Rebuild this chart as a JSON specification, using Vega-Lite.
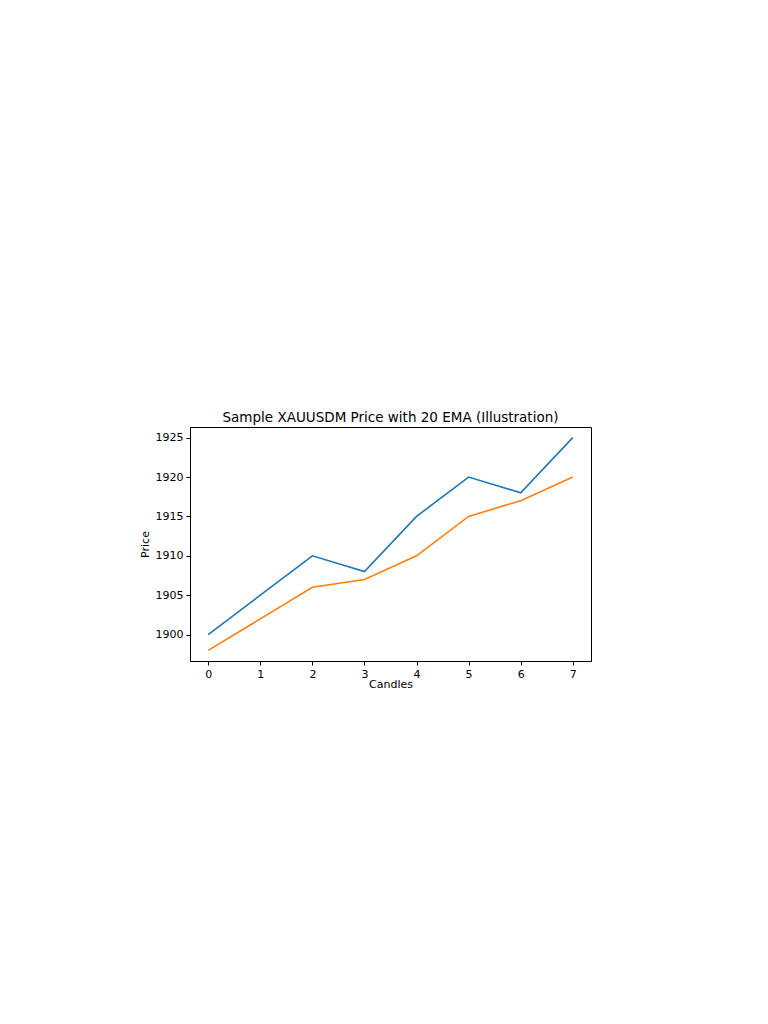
{
  "$schema": "https://vega.github.io/schema/vega-lite/v6.json",
  "width": 401,
  "height": 234,
  "autosize": {"type": "none"},
  "padding": {"left": 190, "top": 427, "right": 177, "bottom": 363},
  "background": "white",
  "config": {
    "font": "DejaVu Sans",
    "view": {"stroke": "#000", "strokeWidth": 1},
    "axis": {"grid": false, "domainColor": "#000", "tickColor": "#000", "labelColor": "#000", "titleColor": "#000", "labelFont": "DejaVu Sans", "titleFont": "DejaVu Sans", "titleFontWeight": "normal", "labelFontSize": 11, "titleFontSize": 11, "tickSize": 4, "labelPadding": 3}
  },
  "title": {"text": "Sample XAUUSDM Price with 20 EMA (Illustration)", "fontSize": 13.5, "fontWeight": "normal", "font": "DejaVu Sans", "color": "#000", "offset": 3, "anchor": "middle"},
  "data": {"values": [
    {"candle": 0, "price": 1900, "series": "Price"},
    {"candle": 1, "price": 1905, "series": "Price"},
    {"candle": 2, "price": 1910, "series": "Price"},
    {"candle": 3, "price": 1908, "series": "Price"},
    {"candle": 4, "price": 1915, "series": "Price"},
    {"candle": 5, "price": 1920, "series": "Price"},
    {"candle": 6, "price": 1918, "series": "Price"},
    {"candle": 7, "price": 1925, "series": "Price"},
    {"candle": 0, "price": 1898, "series": "EMA"},
    {"candle": 1, "price": 1902, "series": "EMA"},
    {"candle": 2, "price": 1906, "series": "EMA"},
    {"candle": 3, "price": 1907, "series": "EMA"},
    {"candle": 4, "price": 1910, "series": "EMA"},
    {"candle": 5, "price": 1915, "series": "EMA"},
    {"candle": 6, "price": 1917, "series": "EMA"},
    {"candle": 7, "price": 1920, "series": "EMA"}
  ]},
  "mark": {"type": "line", "strokeWidth": 1.6, "clip": true},
  "encoding": {
    "x": {"field": "candle", "type": "quantitative", "title": "Candles",
      "scale": {"domain": [-0.35, 7.35], "nice": false, "zero": false},
      "axis": {"values": [0,1,2,3,4,5,6,7], "format": "d", "titlePadding": -1}},
    "y": {"field": "price", "type": "quantitative", "title": "Price",
      "scale": {"domain": [1896.65, 1926.35], "nice": false, "zero": false},
      "axis": {"values": [1900,1905,1910,1915,1920,1925], "format": "d", "titlePadding": 5}},
    "color": {"field": "series", "type": "nominal", "legend": null,
      "scale": {"domain": ["Price", "EMA"], "range": ["#1f77b4", "#ff7f0e"]}},
    "order": {"field": "candle"}
  }
}
